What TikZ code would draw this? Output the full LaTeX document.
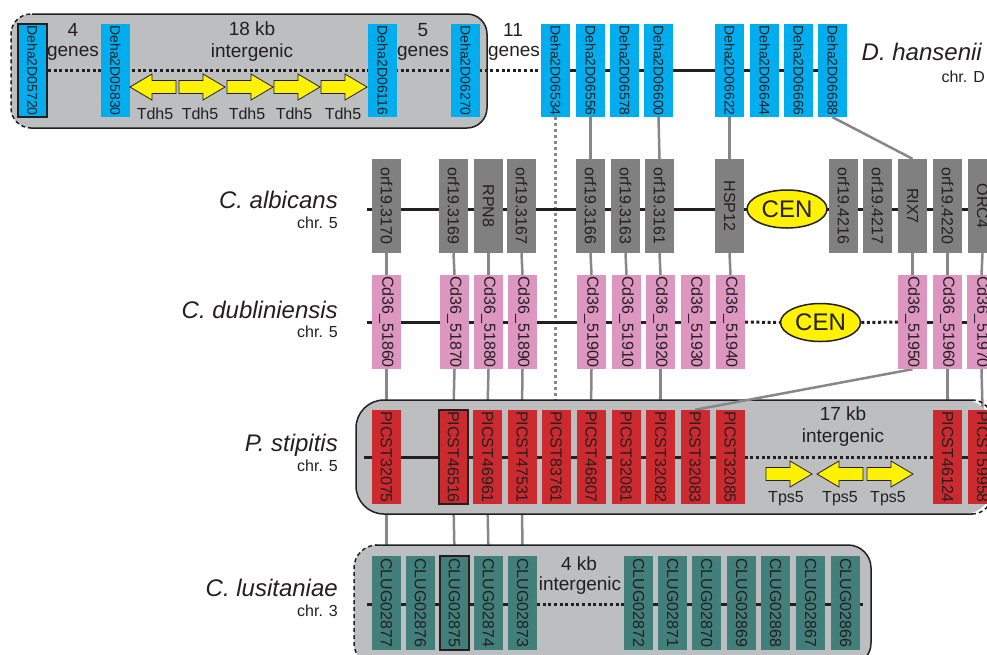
\documentclass[tikz,border=0pt]{standalone}
\usepackage{graphicx}
\usepackage{fontspec}
\setmainfont{Liberation Sans}
\usetikzlibrary{shapes.geometric}
\pgfdeclarelayer{links}
\pgfdeclarelayer{rows}
\pgfsetlayers{links,rows,main}
\definecolor{ink}{HTML}{231F20}
\definecolor{dhblue}{HTML}{00AEEF}
\definecolor{cagrey}{HTML}{808080}
\definecolor{cdpink}{HTML}{DC96C0}
\definecolor{psred}{HTML}{CC2A2E}
\definecolor{clteal}{HTML}{427E7A}
\definecolor{boxgrey}{HTML}{BCBEC0}
\definecolor{linkgrey}{HTML}{878787}
\definecolor{yel}{HTML}{FFF200}
\def\vl#1{\rotatebox{-90}{#1}}
\def\rarr#1#2{\draw[tdh] (#1,{#2-6.5}) -- ({#1+24},{#2-6.5}) -- ({#1+24},{#2-13}) -- ({#1+46},#2) -- ({#1+24},{#2+13}) -- ({#1+24},{#2+6.5}) -- (#1,{#2+6.5}) -- cycle;}
\def\larr#1#2{\draw[tdh] (#1,#2) -- ({#1+22},{#2-13}) -- ({#1+22},{#2-6.5}) -- ({#1+46},{#2-6.5}) -- ({#1+46},{#2+6.5}) -- ({#1+22},{#2+6.5}) -- ({#1+22},{#2+13}) -- cycle;}

\begin{document}
\begin{tikzpicture}[x=1pt,y=-1pt,
  gene/.style={minimum width=29pt,minimum height=94pt,inner sep=0pt,text=ink,font=\fontsize{16}{16}\selectfont},
  dh/.style={gene,fill=dhblue,minimum height=93pt,font=\fontsize{14}{14}\selectfont},
  ca/.style={gene,fill=cagrey},
  cd/.style={gene,fill=cdpink},
  ps/.style={gene,fill=psred},
  cl/.style={gene,fill=clteal},
  framed/.style={draw=ink,line width=2pt},
  chrom/.style={ink,line width=3pt},
  chromdot/.style={chrom,dash pattern=on 3pt off 2.6pt},
  link/.style={linkgrey,line width=2.5pt},
  linkdot/.style={link,dash pattern=on 3pt off 3pt},
  rim/.style={ink,line width=1.5pt},
  rimdash/.style={rim,dash pattern=on 4pt off 3pt},
  cen/.style={ellipse,draw=ink,line width=1.5pt,fill=yel,minimum width=80pt,minimum height=38pt,inner sep=0pt,text=ink,font=\fontsize{24}{24}\selectfont},
  tdh/.style={fill=yel,draw=ink,line width=0.8pt},
  species/.style={anchor=east,inner sep=0pt,text=ink,font=\fontsize{24}{24}\selectfont\itshape,text height=17pt,text depth=0pt},
  chr/.style={anchor=east,inner sep=0pt,text=ink,font=\fontsize{16}{16}\selectfont,text height=11.5pt,text depth=0pt},
  note/.style={inner sep=0pt,text=ink,font=\fontsize{19}{19}\selectfont},
  tag/.style={inner sep=0pt,text=ink,font=\fontsize{16}{16}\selectfont}]
\useasboundingbox (0,0) rectangle (987,654);

% D. hansenii
\node[dh,framed] (dh05720) at (32.5,70.5) {\vl{Deha2D05720}};
\node[dh] (dh05830) at (115.5,70.5) {\vl{Deha2D05830}};
\node[dh] (dh06116) at (382.5,70.5) {\vl{Deha2D06116}};
\node[dh] (dh06270) at (465.5,70.5) {\vl{Deha2D06270}};
\node[dh] (dh06534) at (555.5,70.5) {\vl{Deha2D06534}};
\node[dh] (dh06556) at (590.5,70.5) {\vl{Deha2D06556}};
\node[dh] (dh06578) at (624.5,70.5) {\vl{Deha2D06578}};
\node[dh] (dh06600) at (658.5,70.5) {\vl{Deha2D06600}};
\node[dh] (dh06622) at (729.5,70.5) {\vl{Deha2D06622}};
\node[dh] (dh06644) at (764.5,70.5) {\vl{Deha2D06644}};
\node[dh] (dh06666) at (798.5,70.5) {\vl{Deha2D06666}};
\node[dh] (dh06688) at (832.5,70.5) {\vl{Deha2D06688}};

% C. albicans
\node[ca] (ca3170) at (386.5,206) {\vl{orf19.3170}};
\node[ca] (ca3169) at (453.5,206) {\vl{orf19.3169}};
\node[ca] (caRPN8) at (488.5,206) {\vl{RPN8}};
\node[ca] (ca3167) at (521.5,206) {\vl{orf19.3167}};
\node[ca] (ca3166) at (590.5,206) {\vl{orf19.3166}};
\node[ca] (ca3163) at (625.5,206) {\vl{orf19.3163}};
\node[ca] (ca3161) at (659.5,206) {\vl{orf19.3161}};
\node[ca] (caHSP12) at (729.5,206) {\vl{HSP12}};
\node[cen] (cacen) at (787,209) {CEN};
\node[ca] (ca4216) at (843.5,206) {\vl{orf19.4216}};
\node[ca] (ca4217) at (877.5,206) {\vl{orf19.4217}};
\node[ca] (caRIX7) at (912.5,206) {\vl{RIX7}};
\node[ca] (ca4220) at (947.5,206) {\vl{orf19.4220}};
\node[ca] (caORC4) at (982.5,206) {\vl{ORC4}};

% C. dubliniensis
\node[cd] (cd51860) at (386.5,322) {\vl{Cd36\_51860}};
\node[cd] (cd51870) at (454.5,322) {\vl{Cd36\_51870}};
\node[cd] (cd51880) at (488.5,322) {\vl{Cd36\_51880}};
\node[cd] (cd51890) at (522.5,322) {\vl{Cd36\_51890}};
\node[cd] (cd51900) at (591.5,322) {\vl{Cd36\_51900}};
\node[cd] (cd51910) at (626.5,322) {\vl{Cd36\_51910}};
\node[cd] (cd51920) at (660.5,322) {\vl{Cd36\_51920}};
\node[cd] (cd51930) at (695.5,322) {\vl{Cd36\_51930}};
\node[cd] (cd51940) at (730.5,322) {\vl{Cd36\_51940}};
\node[cen] (cdcen) at (820.5,322.5) {CEN};
\node[cd] (cd51950) at (912.5,322) {\vl{Cd36\_51950}};
\node[cd] (cd51960) at (947.5,322) {\vl{Cd36\_51960}};
\node[cd] (cd51970) at (981.5,322) {\vl{Cd36\_51970}};

% P. stipitis
\node[ps] (ps32075) at (386.5,457) {\vl{PICST32075}};
\node[ps,framed] (ps46516) at (453.5,457) {\vl{PICST46516}};
\node[ps] (ps46961) at (487.5,457) {\vl{PICST46961}};
\node[ps] (ps47531) at (522,457) {\vl{PICST47531}};
\node[ps] (ps83761) at (556,457) {\vl{PICST83761}};
\node[ps] (ps46807) at (591,457) {\vl{PICST46807}};
\node[ps] (ps32081) at (626,457) {\vl{PICST32081}};
\node[ps] (ps32082) at (660.5,457) {\vl{PICST32082}};
\node[ps] (ps32083) at (695,457) {\vl{PICST32083}};
\node[ps] (ps32085) at (730,457) {\vl{PICST32085}};
\node[ps] (ps46124) at (947.5,457) {\vl{PICST46124}};
\node[ps] (ps59958) at (982.5,457) {\vl{PICST59958}};

% C. lusitaniae
\node[cl] (cl02877) at (386.5,602.5) {\vl{CLUG02877}};
\node[cl] (cl02876) at (420.5,602.5) {\vl{CLUG02876}};
\node[cl,framed] (cl02875) at (454.5,602.5) {\vl{CLUG02875}};
\node[cl] (cl02874) at (488.5,602.5) {\vl{CLUG02874}};
\node[cl] (cl02873) at (522.5,602.5) {\vl{CLUG02873}};
\node[cl] (cl02872) at (638.5,602.5) {\vl{CLUG02872}};
\node[cl] (cl02871) at (672.5,602.5) {\vl{CLUG02871}};
\node[cl] (cl02870) at (706.5,602.5) {\vl{CLUG02870}};
\node[cl] (cl02869) at (741.5,602.5) {\vl{CLUG02869}};
\node[cl] (cl02868) at (775.5,602.5) {\vl{CLUG02868}};
\node[cl] (cl02867) at (810.5,602.5) {\vl{CLUG02867}};
\node[cl] (cl02866) at (845.5,602.5) {\vl{CLUG02866}};

\coordinate (caL) at (367,209);
\coordinate (caR) at (995,209);
\coordinate (cdL) at (367,322);
\coordinate (cdR) at (995,322);
\coordinate (psL) at (364,457);
\coordinate (psR) at (995,457);
\coordinate (clL) at (367,604);
\coordinate (clR) at (863,604);

\begin{pgfonlayer}{links}
\draw[link] (dh06556.south) -- (ca3166.north);
\draw[link] (dh06600.south) -- (ca3161.north);
\draw[link] (dh06622.south) -- (caHSP12.north);
\draw[link] (dh06688.south) -- (caRIX7.north);
\draw[linkdot] (dh06534.south) -- (dh06534.south |- ps83761.north);
\draw[link] (ca3170.south) -- (cd51860.north);
\draw[link] (ca3169.south) -- (cd51870.north);
\draw[link] (caRPN8.south) -- (cd51880.north);
\draw[link] (ca3167.south) -- (cd51890.north);
\draw[link] (ca3166.south) -- (cd51900.north);
\draw[link] (ca3163.south) -- (cd51910.north);
\draw[link] (ca3161.south) -- (cd51920.north);
\draw[link] (caHSP12.south) -- (cd51940.north);
\draw[link] (caRIX7.south) -- (cd51950.north);
\draw[link] (ca4220.south) -- (cd51960.north);
\draw[link] (caORC4.south) -- (cd51970.north);
\draw[link] (cd51860.south) -- (ps32075.north);
\draw[link] (cd51870.south) -- (ps46516.north);
\draw[link] (cd51880.south) -- (ps46961.north);
\draw[link] (cd51890.south) -- (ps47531.north);
\draw[link] (cd51900.south) -- (ps46807.north);
\draw[link] (cd51920.south) -- (ps32082.north);
\draw[link] (cd51960.south) -- (ps46124.north);
\draw[link] (cd51970.south) -- (ps59958.north);
\draw[link] (ps32075.south) -- (cl02877.north);
\draw[link] (ps46516.south) -- (cl02875.north);
\draw[link] (ps46961.south) -- (cl02874.north);
\draw[link] (ps47531.south) -- (cl02873.north);
\end{pgfonlayer}

\begin{pgfonlayer}{rows}
% grey blocks
\fill[boxgrey,rounded corners=20pt] (11,14) rectangle (487,128);
\draw[rim,rounded corners=20pt] (32,14) -- (487,14) -- (487,128) -- (32,128);
\draw[rimdash,rounded corners=20pt] (32,128) -- (11,128) -- (11,14) -- (32,14);
\fill[boxgrey,rounded corners=28pt] (356,400) rectangle (992,514);
\draw[rim,rounded corners=28pt] (972,400) -- (356,400) -- (356,514) -- (972,514);
\draw[rimdash,rounded corners=20pt] (972,514) -- (992,514) -- (992,400) -- (972,400);
\fill[boxgrey,rounded corners=23pt] (354,545) rectangle (871,666);
\draw[rim,rounded corners=23pt] (375,545) -- (871,545) -- (871,666) -- (375,666);
\draw[rimdash,rounded corners=23pt] (375,666) -- (354,666) -- (354,545) -- (375,545);
% chromosomes
\draw[chromdot] (dh05720.east) -- (dh06534.west);
\draw[chrom] (dh06534.center) -- (dh06688.center);
\draw[chrom] (caL) -- (caR);
\draw[chrom] (cdL) -- (cd51940.center);
\draw[chromdot] (cd51940.east) -- (cdcen.west);
\draw[chromdot] (cdcen.east) -- (cd51950.west);
\draw[chrom] (cd51950.center) -- (cdR);
\draw[chrom] (psL) -- (ps32085.center);
\draw[chromdot] (ps32085.east) -- (ps46124.west);
\draw[chrom] (ps46124.center) -- (psR);
\draw[chrom] (clL) -- (cl02873.center |- clL);
\draw[chromdot] (cl02873.east |- clL) -- (cl02872.west |- clL);
\draw[chrom] (cl02872.center |- clL) -- (clR);
\draw[link] (cd51950.south) -- (ps32083.north);
\end{pgfonlayer}

% Tdh5 / Tps5 copies
\larr{130}{87}
\rarr{179}{87}
\rarr{227}{87}
\rarr{274}{87}
\rarr{321}{87}
\node[tag] (tdh1) at (155,114) {Tdh5};
\node[tag] (tdh2) at (200,114) {Tdh5};
\node[tag] (tdh3) at (247,114) {Tdh5};
\node[tag] (tdh4) at (294,114) {Tdh5};
\node[tag] (tdh5) at (343,114) {Tdh5};
\rarr{766}{474}
\larr{817}{474}
\rarr{867}{474}
\node[tag] (tps1) at (786,499) {Tps5};
\node[tag] (tps2) at (840,499) {Tps5};
\node[tag] (tps3) at (888,499) {Tps5};

\node[note] (n4) at (73,30) {4};
\node[note] (n4g) at (73,53) {genes};
\node[note] (n18) at (252,29) {18 kb};
\node[note] (n18i) at (252,53) {intergenic};
\node[note] (n5) at (423,30) {5};
\node[note] (n5g) at (423,53) {genes};
\node[note] (n11) at (513,30) {11};
\node[note] (n11g) at (514,53) {genes};
\node[note] (n17) at (843,414) {17 kb};
\node[note] (n17i) at (843,438) {intergenic};
\node[note] (nk4) at (579,564) {4 kb};
\node[note] (nk4i) at (580,586) {intergenic};

% species
\node[species] (spdh) at (982,52) {D. hansenii};
\node[chr] (chdh) at (985,76.5) {chr. D};
\node[species] (spca) at (338,200) {C. albicans};
\node[chr] (chca) at (338,223) {chr. 5};
\node[species] (spcd) at (338,310) {C. dubliniensis};
\node[chr] (chcd) at (338,332) {chr. 5};
\node[species] (spps) at (338,443) {P. stipitis};
\node[chr] (chps) at (338,466) {chr. 5};
\node[species] (spcl) at (338,587.5) {C. lusitaniae};
\node[chr] (chcl) at (338,611) {chr. 3};
\end{tikzpicture}
\end{document}
